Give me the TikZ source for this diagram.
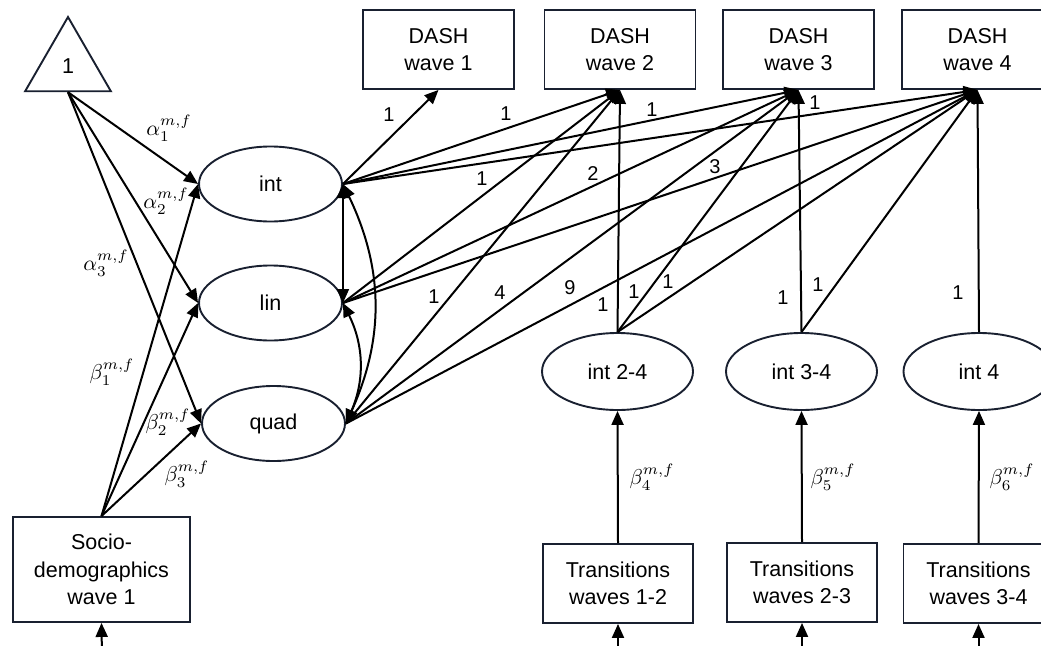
\documentclass[tikz,border=0pt]{standalone}
\usepackage[no-math]{fontspec}
\usepackage{graphicx}
\setmainfont{Liberation Sans}
\usetikzlibrary{shapes.geometric,arrows.meta}
\definecolor{navy}{RGB}{25,32,48}
\newcommand{\coeflab}[1]{\scalebox{2.15}{$#1$}}
\begin{document}
\begin{tikzpicture}[x=1pt,y=-1pt,
  every node/.style={font=\fontsize{21.5}{27.5}\selectfont, inner sep=0pt},
  lat/.style={draw=navy, line width=1.9pt, ellipse, minimum width=143pt, minimum height=75pt},
  latb/.style={lat, minimum width=151pt, minimum height=77pt},
  obs/.style={draw=navy, line width=1.9pt, rectangle, minimum width=151pt, minimum height=79pt, align=center},
  arr/.style={line width=2pt, -{Triangle[length=14pt,width=12pt]}},
  barr/.style={line width=2pt, {Triangle[length=14pt,width=12pt]}-{Triangle[length=14pt,width=12pt]}},
  num/.style={font=\fontsize{20}{24}\selectfont},
  coef/.style={font=\normalsize}]
\useasboundingbox (0,0) rectangle (1041,645);
\clip (0,0) rectangle (1041,645);

% nodes
\node[draw=navy, line width=1.9pt, regular polygon, regular polygon sides=3, minimum size=99pt] (tri) at (68,66.5) {1};
\node[lat] (int) at (270.5,184) {int};
\node[lat] (lin) at (270.5,303) {lin};
\node[lat] (quad) at (273.5,423.5) {quad};
\node[obs] (d1) at (438.5,49.5) {DASH\\wave 1};
\node[obs] (d2) at (620,49.5) {DASH\\wave 2};
\node[obs] (d3) at (798.5,49.5) {DASH\\wave 3};
\node[obs] (d4) at (977.5,49.5) {DASH\\wave 4};
\node[latb] (i24) at (617.5,371.5) {int 2-4};
\node[latb] (i34) at (801.5,371.5) {int 3-4};
\node[latb] (i4) at (979,371.5) {int 4};
\node[obs, minimum width=150pt] (t12) at (618,583.5) {Transitions\\waves 1-2};
\node[obs, minimum width=150pt] (t23) at (802,582.5) {Transitions\\waves 2-3};
\node[obs, minimum width=150pt] (t34) at (978.5,583.5) {Transitions\\waves 3-4};
\node[obs, minimum width=177pt, minimum height=105pt] (socio) at (101.5,569.5) {Socio-\\demographics\\wave 1};

\coordinate (b0) at (102,660);
\coordinate (b1) at (618,660);
\coordinate (b2) at (802,660);
\coordinate (b3) at (978.5,660);

% connectors
\foreach \t in {int,lin,quad} {
  \draw[arr] (tri.south) -- (\t.west);
  \draw[arr] (socio.north) -- (\t.west);
}
\foreach \t in {d1,d2,d3,d4} \draw[arr] (int.east) -- (\t.south);
\foreach \t in {d2,d3,d4} {
  \draw[arr] (lin.east) -- (\t.south);
  \draw[arr] (quad.east) -- (\t.south);
  \draw[arr] (i24.north) -- (\t.south);
}
\foreach \t in {d3,d4} \draw[arr] (i34.north) -- (\t.south);
\draw[arr] (i4.north) -- (d4.south);
\draw[barr] (int.east) -- (lin.east);
\draw[barr] (int.east) to[bend left=25] (quad.east);
\draw[barr] (lin.east) to[bend left=25] (quad.east);
\draw[arr] (t12.north) -- (i24.south);
\draw[arr] (t23.north) -- (i34.south);
\draw[arr] (t34.north) -- (i4.south);
\draw[arr] (b0) -- (socio.south);
\draw[arr] (b1) -- (t12.south);
\draw[arr] (b2) -- (t23.south);
\draw[arr] (b3) -- (t34.south);

% loading labels
\node[num] (n1) at (389,115) {1};
\node[num] (n2) at (506,114) {1};
\node[num] (n3) at (482,179) {1};
\node[num] (n4) at (593,174) {2};
\node[num] (n5) at (652,110) {1};
\node[num] (n6) at (815,103) {1};
\node[num] (n7) at (715,167) {3};
\node[num] (n8) at (434,297) {1};
\node[num] (n9) at (500,293) {4};
\node[num] (n10) at (570,288) {9};
\node[num] (n11) at (603,305) {1};
\node[num] (n12) at (634,292) {1};
\node[num] (n13) at (668,282) {1};
\node[num] (n14) at (783,298) {1};
\node[num] (n15) at (818,285) {1};
\node[num] (n16) at (958,293) {1};

% coefficient labels
\node[coef] (a1) at (169,128) {\coeflab{\alpha_1^{m,f}}};
\node[coef] (a2) at (166,201) {\coeflab{\alpha_2^{m,f}}};
\node[coef] (a3) at (106,263) {\coeflab{\alpha_3^{m,f}}};
\node[coef] (g1) at (112,372) {\coeflab{\beta_1^{m,f}}};
\node[coef] (g2) at (168,422) {\coeflab{\beta_2^{m,f}}};
\node[coef] (g3) at (187,474) {\coeflab{\beta_3^{m,f}}};
\node[coef] (g4) at (652,477) {\coeflab{\beta_4^{m,f}}};
\node[coef] (g5) at (833,477) {\coeflab{\beta_5^{m,f}}};
\node[coef] (g6) at (1012,477) {\coeflab{\beta_6^{m,f}}};
\end{tikzpicture}
\end{document}
